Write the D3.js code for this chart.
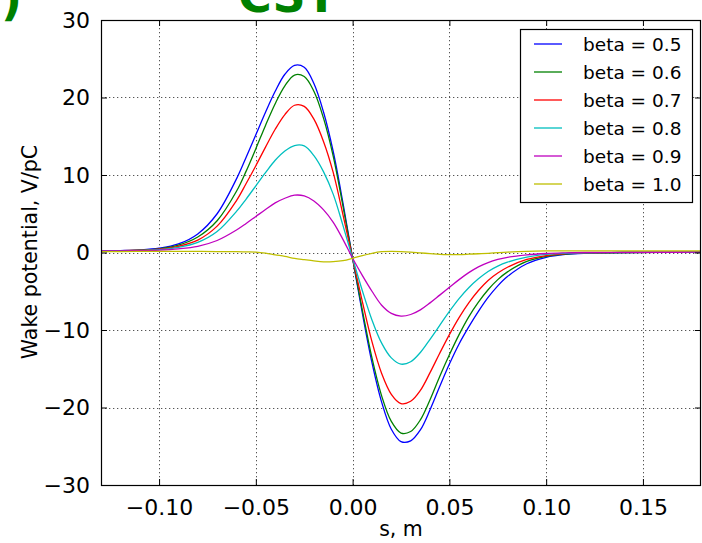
<!DOCTYPE html>
<html>
<head>
	<meta charset="utf-8">
	<script src="https://d3js.org/d3.v7.min.js"></script>
	<style>
		body { margin: 0; background: #fff; }
		text { font-family: "DejaVu Sans", sans-serif; }
	</style>
</head>
<body>
	<script type="text/javascript">

		var sVals = [-0.13,-0.12,-0.11,-0.10,-0.09,-0.08,-0.07,-0.06,-0.055,-0.05,-0.045,-0.04,-0.035,-0.03,-0.025,-0.02,-0.015,-0.01,-0.005,0,
			0.005,0.01,0.015,0.02,0.025,0.03,0.035,0.04,0.045,0.05,0.055,0.06,0.065,0.07,0.075,0.08,0.09,0.10,0.11,0.12,0.14,0.16,0.18];

		//wake potential V/pC for each beta
		var beta05 = [0.2,0.25,0.33,0.55,1.1,2.4,5.0,9.5,12.3,15.2,18.1,20.8,23.0,24.15,23.9,21.8,18.1,13.0,6.4,-0.75,
			-7.8,-14.2,-19.3,-22.8,-24.4,-24.3,-22.9,-20.3,-17.3,-14.4,-11.8,-9.6,-7.6,-5.8,-4.3,-3.1,-1.45,-0.62,-0.25,-0.1,0,0.02,0.03];
		var beta06 = [0.2,0.24,0.3,0.47,0.95,2.0,4.1,7.9,10.5,13.4,16.4,19.2,21.5,22.9,22.7,20.8,17.3,12.4,6.0,-0.75,
			-7.4,-13.6,-18.5,-21.8,-23.3,-23.1,-21.6,-19.0,-16.0,-13.2,-10.6,-8.3,-6.4,-4.8,-3.5,-2.5,-1.15,-0.5,-0.2,-0.08,0,0.02,0.03];
		var beta07 = [0.2,0.23,0.29,0.42,0.8,1.6,3.4,6.7,8.9,11.2,13.6,15.9,17.8,19.0,18.85,17.2,14.3,10.3,4.9,-0.75,
			-6.3,-11.5,-15.6,-18.3,-19.5,-19.2,-17.8,-15.5,-13.0,-10.6,-8.4,-6.5,-4.9,-3.6,-2.65,-1.9,-0.9,-0.4,-0.15,-0.05,0,0.02,0.03];
		var beta08 = [0.2,0.22,0.27,0.37,0.65,1.3,2.7,5.3,6.9,8.6,10.3,11.9,13.1,13.8,13.75,12.5,10.4,7.5,3.5,-0.75,
			-4.9,-8.7,-11.7,-13.6,-14.4,-14.1,-12.9,-11.2,-9.4,-7.6,-5.95,-4.55,-3.4,-2.45,-1.75,-1.25,-0.6,-0.25,-0.1,-0.03,0,0.02,0.03];
		var beta09 = [0.2,0.21,0.24,0.31,0.47,0.8,1.55,2.9,3.75,4.65,5.55,6.4,7.0,7.4,7.3,6.65,5.5,3.9,1.7,-0.75,
			-2.95,-5.0,-6.8,-7.85,-8.2,-8.0,-7.4,-6.5,-5.5,-4.5,-3.5,-2.6,-1.85,-1.3,-0.9,-0.62,-0.3,-0.13,-0.05,0,0.02,0.03,0.04];
		var beta10 = [0.1,0.12,0.14,0.15,0.15,0.15,0.12,0.1,0.08,0.05,-0.08,-0.3,-0.5,-0.75,-0.92,-1.08,-1.2,-1.18,-1.05,-0.75,
			-0.4,-0.1,0.1,0.15,0.12,0.05,-0.05,-0.15,-0.25,-0.28,-0.27,-0.22,-0.16,-0.1,-0.02,0.05,0.15,0.2,0.22,0.22,0.22,0.22,0.22];

		var seriesNames = ["beta = 0.5","beta = 0.6","beta = 0.7","beta = 0.8","beta = 0.9","beta = 1.0"];
		var seriesColors = ["#0000ff","#008000","#ff0000","#00bfbf","#bf00bf","#bfbf00"];
		var allSeries = [beta05, beta06, beta07, beta08, beta09, beta10];

		var xTicks = [-0.10,-0.05,0.00,0.05,0.10,0.15];
		var yTicks = [-30,-20,-10,0,10,20,30];

		//size of the page and the plot box (window.top is reserved, so no "top")
		var w = 702;
		var h = 543;
		var plotL = 101, plotR = 701, plotT = 20, plotB = 485;

		var svg = d3.select("body")
				.append("svg")
				.attr("width", w)
				.attr("height", h);

		var xScale = d3.scaleLinear()
						.domain([-0.13, 0.18])
						.range([plotL, plotR]);

		var yScale = d3.scaleLinear()
						.domain([-30, 30])
						.range([plotB, plotT]);

		//dotted grid
		svg.append("g")
			.selectAll("line")
			.data(xTicks)
			.enter()
			.append("line")
			.attr("x1", function(d){ return Math.round(xScale(d)) + 0.5; })
			.attr("x2", function(d){ return Math.round(xScale(d)) + 0.5; })
			.attr("y1", plotT)
			.attr("y2", plotB)
			.attr("stroke", "#555")
			.attr("stroke-dasharray", "1.3,2.7");

		svg.append("g")
			.selectAll("line")
			.data(yTicks.slice(1, -1))
			.enter()
			.append("line")
			.attr("y1", function(d){ return Math.round(yScale(d)) + 0.5; })
			.attr("y2", function(d){ return Math.round(yScale(d)) + 0.5; })
			.attr("x1", plotL)
			.attr("x2", plotR)
			.attr("stroke", "#555")
			.attr("stroke-dasharray", "1.3,2.7");

		svg.append("clipPath")
			.attr("id", "plotclip")
			.append("rect")
			.attr("x", plotL)
			.attr("y", plotT)
			.attr("width", plotR - plotL)
			.attr("height", plotB - plotT);

		//the curves
		var line = d3.line()
					.x(function(d, i){ return xScale(sVals[i]); })
					.y(function(d){ return yScale(d); })
					.curve(d3.curveCatmullRom);

		svg.append("g")
			.attr("clip-path", "url(#plotclip)")
			.selectAll("path")
			.data(allSeries)
			.enter()
			.append("path")
			.attr("d", line)
			.attr("fill", "none")
			.attr("stroke", function(d, i){ return seriesColors[i]; })
			.attr("stroke-width", 1.3);

		//axes: ticks pointing inwards on all four sides
		var tickFont = "22px";
		svg.append("g")
			.attr("transform", "translate(0," + plotB + ")")
			.call(d3.axisBottom(xScale).tickValues(xTicks).tickSizeInner(-6).tickSizeOuter(0).tickPadding(14).tickFormat(d3.format(".2f")))
			.call(function(g){ g.select(".domain").remove(); })
			.selectAll("text")
			.attr("font-size", tickFont)
			.attr("fill", "#000");

		svg.append("g")
			.attr("transform", "translate(0," + plotT + ")")
			.call(d3.axisTop(xScale).tickValues(xTicks).tickSizeInner(-6).tickSizeOuter(0).tickFormat(""))
			.call(function(g){ g.select(".domain").remove(); });

		svg.append("g")
			.attr("transform", "translate(" + plotL + ",0)")
			.call(d3.axisLeft(yScale).tickValues(yTicks).tickSizeInner(-6).tickSizeOuter(0).tickPadding(11).tickFormat(d3.format("d")))
			.call(function(g){ g.select(".domain").remove(); })
			.selectAll("text")
			.attr("font-size", tickFont)
			.attr("fill", "#000");

		svg.append("g")
			.attr("transform", "translate(" + plotR + ",0)")
			.call(d3.axisRight(yScale).tickValues(yTicks).tickSizeInner(-6).tickSizeOuter(0).tickFormat(""))
			.call(function(g){ g.select(".domain").remove(); });

		svg.selectAll(".tick line").attr("stroke", "#000");

		//frame
		svg.append("rect")
			.attr("x", plotL + 0.5)
			.attr("y", plotT + 0.5)
			.attr("width", plotR - plotL - 1)
			.attr("height", plotB - plotT)
			.attr("fill", "none")
			.attr("stroke", "#000")
			.attr("stroke-width", 1.2);

		//axis labels
		svg.append("text")
			.attr("x", 401)
			.attr("y", 536)
			.attr("text-anchor", "middle")
			.attr("font-size", "20.5px")
			.text("s, m");

		svg.append("text")
			.attr("transform", "translate(37,252) rotate(-90)")
			.attr("text-anchor", "middle")
			.attr("font-size", "20.5px")
			.text("Wake potential, V/pC");

		//title and panel label, both cut off at the top
		svg.append("text")
			.attr("x", 238)
			.attr("y", 12)
			.attr("font-size", "46px")
			.attr("font-weight", "bold")
			.attr("fill", "#008000")
			.text("CST");

		svg.append("text")
			.attr("x", 22)
			.attr("y", 15)
			.attr("text-anchor", "end")
			.attr("font-size", "46px")
			.attr("font-weight", "bold")
			.attr("fill", "#008000")
			.text("a)");

		//legend
		var legend = svg.append("g");
		legend.append("rect")
			.attr("x", 520.5)
			.attr("y", 29.5)
			.attr("width", 172)
			.attr("height", 173)
			.attr("fill", "#fff")
			.attr("stroke", "#000")
			.attr("stroke-width", 1.2);

		var rows = legend.selectAll(".row")
			.data(seriesNames)
			.enter()
			.append("g")
			.attr("transform", function(d, i){ return "translate(0," + (44 + i * 28) + ")"; });

		rows.append("line")
			.attr("x1", 534)
			.attr("x2", 562)
			.attr("stroke", function(d, i){ return seriesColors[i]; })
			.attr("stroke-width", 1.3);

		rows.append("text")
			.attr("x", 583)
			.attr("y", 7)
			.attr("font-size", "18.5px")
			.text(function(d){ return d; });

	</script>
</body>
</html>
